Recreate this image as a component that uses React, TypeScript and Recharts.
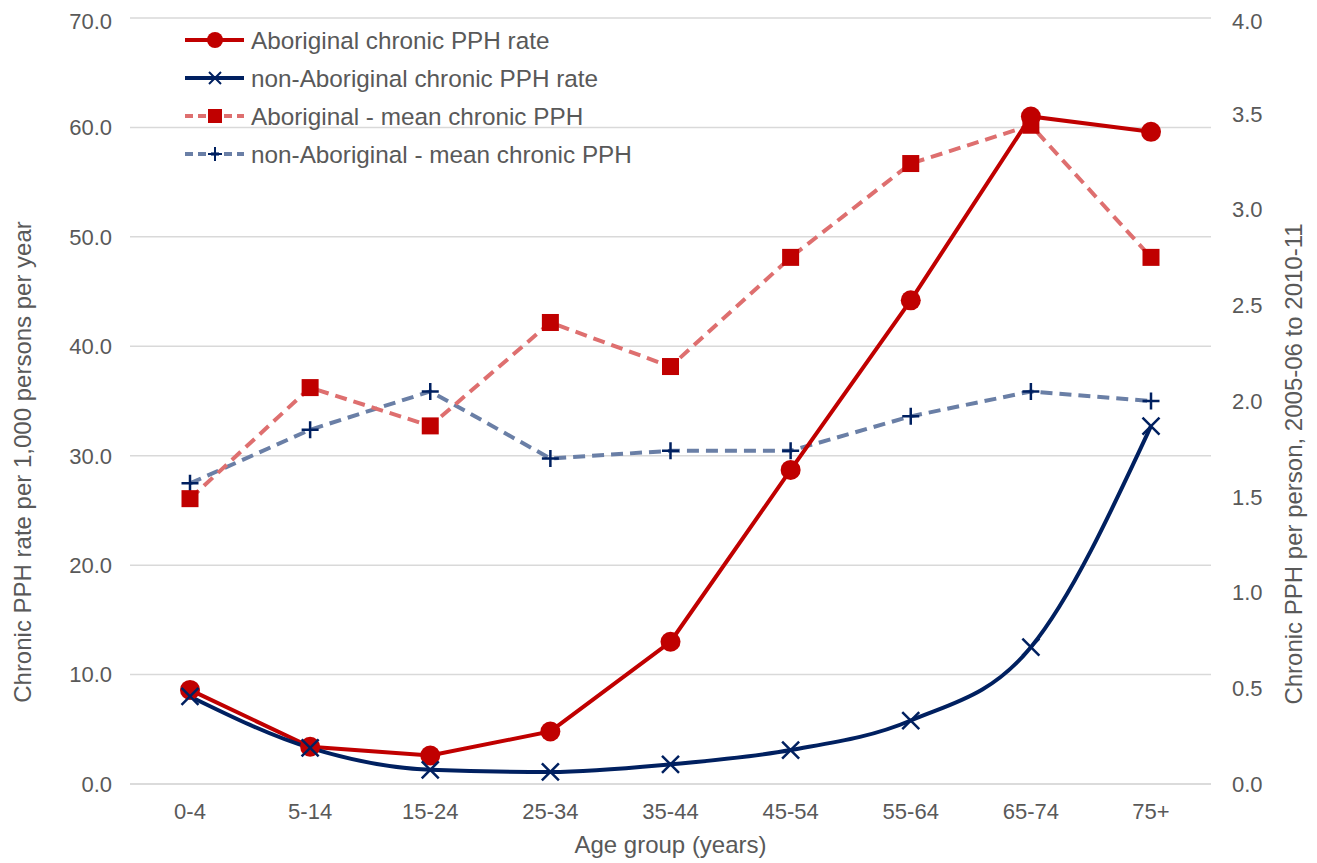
import React from 'react';
import { LineChart, Line, XAxis, YAxis, CartesianGrid, Legend } from 'recharts';

const categories = ['0-4', '5-14', '15-24', '25-34', '35-44', '45-54', '55-64', '65-74', '75+'];
const aboriginalRate = [8.6, 3.4, 2.6, 4.8, 13.0, 28.7, 44.2, 61.0, 59.6];
const nonAboriginalRate = [8.0, 3.3, 1.3, 1.1, 1.8, 3.1, 5.8, 12.5, 32.7];
const aboriginalMean = [1.49, 2.07, 1.87, 2.41, 2.18, 2.75, 3.24, 3.44, 2.75];
const nonAboriginalMean = [1.57, 1.85, 2.05, 1.70, 1.74, 1.74, 1.92, 2.05, 2.0];
const leftTicks = [0, 10, 20, 30, 40, 50, 60, 70];
const rightTicks = [0, 0.5, 1, 1.5, 2, 2.5, 3, 3.5, 4];

const seriesNames = [
  'Aboriginal chronic PPH rate',
  'non-Aboriginal chronic PPH rate',
  'Aboriginal - mean chronic PPH',
  'non-Aboriginal - mean chronic PPH',
];

const data = categories.map((c, i) => ({
  cat: c,
  aRate: aboriginalRate[i],
  nRate: nonAboriginalRate[i],
  aMean: aboriginalMean[i],
  nMean: nonAboriginalMean[i],
}));

const RED = '#C00000';
const NAVY = '#002060';
const LRED = '#DE6F6F';
const LBLUE = '#6A7FA6';
const TXT = '#595959';
const FONT = '"Liberation Sans", Arial, sans-serif';

const circleDot = (p: any) => (
  <circle key={`c${p.index}`} cx={p.cx} cy={p.cy} r={10} fill={RED} />
);
const squareDot = (p: any) => (
  <rect key={`s${p.index}`} x={p.cx - 8.5} y={p.cy - 8.5} width={17} height={17} fill={RED} />
);
const xDot = (p: any) => (
  <path
    key={`x${p.index}`}
    d={`M${p.cx - 8.5},${p.cy - 8.5}L${p.cx + 8.5},${p.cy + 8.5}M${p.cx - 8.5},${p.cy + 8.5}L${p.cx + 8.5},${p.cy - 8.5}`}
    stroke={NAVY}
    strokeWidth={2.5}
    fill="none"
  />
);
const plusDot = (p: any) => (
  <path
    key={`p${p.index}`}
    d={`M${p.cx - 8.5},${p.cy}L${p.cx + 8.5},${p.cy}M${p.cx},${p.cy - 8.5}L${p.cx},${p.cy + 8.5}`}
    stroke={NAVY}
    strokeWidth={2.5}
    fill="none"
  />
);

const LegendContent = () => {
  const rows = [19, 57, 95, 133];
  return (
    <svg width={520} height={155} style={{ display: 'block' }}>
      <line x1={7} x2={66} y1={rows[0]} y2={rows[0]} stroke={RED} strokeWidth={4} />
      <circle cx={37} cy={rows[0]} r={8} fill={RED} />
      <line x1={7} x2={66} y1={rows[1]} y2={rows[1]} stroke={NAVY} strokeWidth={4} />
      <path d={`M${31},${rows[1] - 6}L${43},${rows[1] + 6}M${31},${rows[1] + 6}L${43},${rows[1] - 6}`} stroke={NAVY} strokeWidth={2} />
      <line x1={7} x2={66} y1={rows[2]} y2={rows[2]} stroke={LRED} strokeWidth={4} strokeDasharray="8 5" />
      <rect x={30} y={rows[2] - 7} width={14} height={14} fill={RED} />
      <line x1={7} x2={66} y1={rows[3]} y2={rows[3]} stroke={LBLUE} strokeWidth={4} strokeDasharray="8 5" />
      <path d={`M${30},${rows[3]}L${44},${rows[3]}M${37},${rows[3] - 7}L${37},${rows[3] + 7}`} stroke={NAVY} strokeWidth={2} />
      {seriesNames.map((n, i) => (
        <text key={n} x={73} y={rows[i]} dominantBaseline="central" fontSize={24.3} fill={TXT} fontFamily={FONT}>
          {n}
        </text>
      ))}
    </svg>
  );
};

const leftTitle = (props: any) => {
  const vb = props.viewBox;
  const x = vb.x + 14;
  const y = vb.y + vb.height / 2 + 61;
  return (
    <text x={x} y={y} transform={`rotate(-90 ${x} ${y})`} textAnchor="middle" dominantBaseline="central" fontSize={24} fill={TXT} fontFamily={FONT}>
      Chronic PPH rate per 1,000 persons per year
    </text>
  );
};

const rightTitle = (props: any) => {
  const vb = props.viewBox;
  const x = vb.x + 82;
  const y = vb.y + vb.height / 2 + 63;
  return (
    <text x={x} y={y} transform={`rotate(-90 ${x} ${y})`} textAnchor="middle" dominantBaseline="central" fontSize={24} fill={TXT} fontFamily={FONT}>
      Chronic PPH per person, 2005-06 to 2010-11
    </text>
  );
};

const bottomTitle = (props: any) => {
  const vb = props.viewBox;
  const x = vb.x + vb.width / 2;
  const y = vb.y + 60;
  return (
    <text x={x} y={y} textAnchor="middle" dominantBaseline="central" fontSize={24} fill={TXT} fontFamily={FONT}>
      Age group (years)
    </text>
  );
};

export default function App() {
  return (
    <div style={{ width: 1301, height: 855, fontFamily: FONT }}>
      <LineChart width={1301} height={855} data={data} margin={{ top: 10, right: 0, bottom: 8, left: 0 }}>
        <CartesianGrid yAxisId="left" horizontal vertical={false} stroke="#D9D9D9" strokeWidth={1.5} />
        <XAxis
          dataKey="cat"
          scale="point"
          padding={{ left: 60, right: 60 }}
          height={71}
          axisLine={{ stroke: '#D9D9D9', strokeWidth: 1.5 }}
          tickLine={false}
          tickSize={0}
          tickMargin={19}
          tick={{ fontSize: 22, fill: TXT, fontFamily: FONT }}
          label={{ value: 'Age group (years)', content: bottomTitle }}
        />
        <YAxis
          yAxisId="left"
          orientation="left"
          domain={[0, 70]}
          ticks={leftTicks}
          width={122}
          axisLine={false}
          tickLine={false}
          tickSize={0}
          tickMargin={18}
          tickFormatter={(v: number) => v.toFixed(1)}
          tick={{ fontSize: 22, fill: TXT, fontFamily: FONT }}
          label={{ value: 'left', content: leftTitle }}
        />
        <YAxis
          yAxisId="right"
          orientation="right"
          domain={[0, 4]}
          ticks={rightTicks}
          width={98}
          axisLine={false}
          tickLine={false}
          tickSize={0}
          tickMargin={21}
          tickFormatter={(v: number) => v.toFixed(1)}
          tick={{ fontSize: 22, fill: TXT, fontFamily: FONT }}
          label={{ value: 'right', content: rightTitle }}
        />
        <Legend
          layout="vertical"
          align="center"
          verticalAlign="middle"
          content={LegendContent}
          wrapperStyle={{ left: 170, top: 13, width: 520, height: 155 }}
        />
        <Line
          yAxisId="right"
          dataKey="nMean"
          name={seriesNames[3]}
          type="linear"
          stroke={LBLUE}
          strokeWidth={4}
          strokeDasharray="12 7"
          dot={plusDot}
          activeDot={false}
          isAnimationActive={false}
        />
        <Line
          yAxisId="right"
          dataKey="aMean"
          name={seriesNames[2]}
          type="linear"
          stroke={LRED}
          strokeWidth={4}
          strokeDasharray="12 7"
          dot={squareDot}
          activeDot={false}
          isAnimationActive={false}
        />
        <Line
          yAxisId="left"
          dataKey="aRate"
          name={seriesNames[0]}
          type="linear"
          stroke={RED}
          strokeWidth={4}
          dot={circleDot}
          activeDot={false}
          isAnimationActive={false}
        />
        <Line
          yAxisId="left"
          dataKey="nRate"
          name={seriesNames[1]}
          type="monotone"
          stroke={NAVY}
          strokeWidth={4}
          dot={xDot}
          activeDot={false}
          isAnimationActive={false}
        />
      </LineChart>
    </div>
  );
}
